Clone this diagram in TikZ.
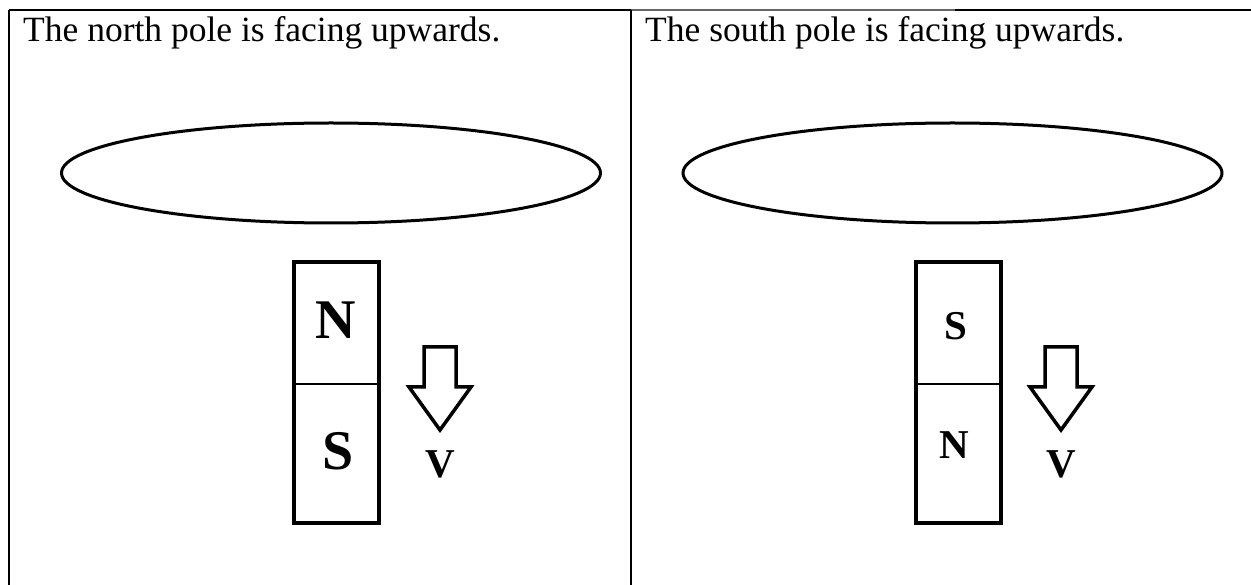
\documentclass[tikz,border=0pt]{standalone}
\usepackage{fontspec}
\setmainfont{Liberation Serif}
\usetikzlibrary{shapes.geometric}
\begin{document}
\begin{tikzpicture}[x=1pt,y=-1pt,
  rule/.style={line width=2pt,black},
  header/.style={anchor=base west,inner sep=0pt,font=\fontsize{35.5}{40}\selectfont},
  loop/.style={ellipse,draw,line width=3pt,minimum width=539pt,minimum height=100pt,inner sep=0pt},
  magnet/.style={rectangle,draw,line width=4pt,minimum width=85pt,minimum height=261pt,inner sep=0pt},
  splitline/.style={line width=2.7pt},
  bigpole/.style={anchor=base,inner sep=0pt,font=\bfseries\fontsize{56}{60}\selectfont},
  smallpole/.style={anchor=base,inner sep=0pt,font=\bfseries\fontsize{41}{45}\selectfont},
  vel/.style={anchor=base,inner sep=0pt,font=\bfseries\fontsize{41}{45}\selectfont},
  hollowarrow/.style={draw,line width=3.5pt,line join=miter,fill=white}
]
\useasboundingbox[fill=white] (0,0) rectangle (1251,585);

% table rules
\coordinate (tl) at (8.5,10);
\coordinate (bl) at (8.5,585);
\coordinate (tm) at (631,10);
\coordinate (bm) at (631,585);
\coordinate (tg) at (955,10);
\coordinate (tr) at (1251,10);
\draw[rule] (tl) -- (tm);
\draw[line width=1.6pt,black!60] (tm) -- (tg);
\draw[rule] (tg) -- (tr);
\draw[rule] (tl) -- (bl);
\draw[rule] (tm) -- (bm);

% headers
\node[header] (h1) at (23,42) {The north pole is facing upwards.};
\node[header] (h2) at (645,42) {The south pole is facing upwards.};

% ellipses
\node[loop] (e1) at (331,173) {};
\node[loop] (e2) at (952.5,173) {};

% left magnet
\node[magnet] (m1) at (336.5,392.5) {};
\coordinate (d1a) at (294,384);
\coordinate (d1b) at (380.5,384);
\draw[splitline] (d1a) -- (d1b);
\node[bigpole] (n1) at (336,339) {N};
\node[bigpole] (s1) at (338,469) {S};

% right magnet
\node[magnet] (m2) at (958,392.5) {};
\coordinate (d2a) at (916,384);
\coordinate (d2b) at (1002,384);
\draw[splitline] (d2a) -- (d2b);
\node[smallpole] (s2) at (956,340) {S};
\node[smallpole] (n2) at (954,458) {N};

% velocity arrows
\draw[hollowarrow] (424,347) -- (456,347) -- (456,387) -- (471,387) -- (440,430)
  -- (409,387) -- (424,387) -- cycle;
\node[vel] (v1) at (440,477) {V};

\draw[hollowarrow] (1045,347) -- (1077,347) -- (1077,387) -- (1092,387) -- (1061,430)
  -- (1030,387) -- (1045,387) -- cycle;
\node[vel] (v2) at (1061,477) {V};
\end{tikzpicture}
\end{document}
